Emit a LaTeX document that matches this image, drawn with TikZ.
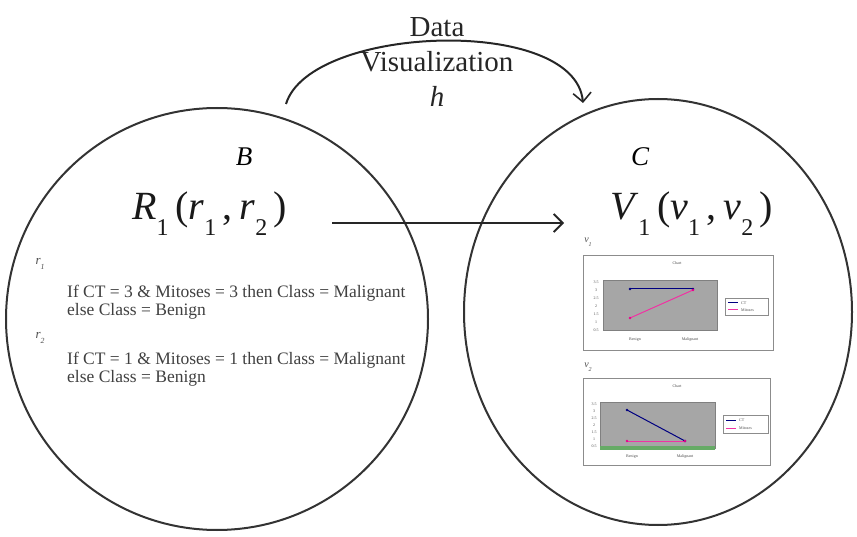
\documentclass[tikz,border=0pt]{standalone}
\usepackage{fontspec}
\setmainfont{Liberation Serif}
\usetikzlibrary{arrows.meta,shapes.geometric}
\newcommand{\sbx}[1]{\raisebox{-0.38em}{\scalebox{0.6}{#1}}}
\tikzset{
  setring/.style={draw=black!80, line width=2pt, ellipse, inner sep=0pt},
  flow/.style={draw=black!85, line width=2.2pt, -{Straight Barb[length=9pt,width=18pt,line width=1.8pt]}},
  rule/.style={anchor=west, inner sep=0pt, font=\fontsize{17.5}{18}\selectfont, text=black!75},
  rlab/.style={inner sep=0pt, font=\fontsize{13}{14}\selectfont\itshape, text=black!70},
  big/.style={inner sep=0pt, anchor=base west, font=\fontsize{40}{42}\selectfont, text=black!90},
  frame/.style={draw=black!45, fill=white, line width=0.6pt},
  plot/.style={fill=black!35, draw=black!50, line width=0.4pt},
  tiny/.style={inner sep=0pt, font=\fontsize{4}{4}\selectfont, text=black!70},
  ctline/.style={draw=blue!50!black, line width=1pt},
  mitline/.style={draw=magenta!80!white, line width=1pt}
}
\begin{document}
\begin{tikzpicture}[x=1pt,y=-1pt]
\useasboundingbox (0,0) rectangle (857,537);
% sets
\node[setring, minimum width=422pt, minimum height=422pt] (Bset) at (217,319) {};
\node[setring, minimum width=388pt, minimum height=426pt] (Cset) at (658,312) {};
\coordinate (bTop) at (286,104);
\coordinate (cTop) at (583,103);
% labels
\node[inner sep=0pt, font=\fontsize{27}{28}\selectfont\itshape] (B) at (244,157) {B};
\node[inner sep=0pt, font=\fontsize{27}{28}\selectfont\itshape] (C) at (640,157) {C};
\node[big] (R) at (132,220)
  {\textit{R}\sbx{1}\,(\textit{r}\sbx{1}\,,\,\textit{r}\sbx{2}\,)};
\node[big] (V) at (610,220)
  {\textit{V}\sbx{1}\,(\textit{v}\sbx{1}\,,\,\textit{v}\sbx{2}\,)};
% arrows
\coordinate (aStart) at (332,223);
\coordinate (aEnd) at (564,223);
\draw[flow] (aStart) -- (aEnd);
\draw[draw=black!85, line width=2pt, -{Straight Barb[length=9pt,width=18pt,line width=1.6pt]}]
  (bTop) .. controls (310,25) and (575,15) .. (cTop);
\node[align=center, inner sep=0pt, font=\fontsize{29}{35}\selectfont, text=black!85] (h) at (437,62)
  {Data\\Visualization\\\textit{h}};
% rules
\node[rlab] (r1) at (40,264) {r\sbx{1}};
\node[rule] (l1) at (67,293) {If CT = 3 \& Mitoses = 3 then Class = Malignant};
\node[rule] (l2) at (67,311) {else Class = Benign};
\node[rlab] (r2) at (40,338) {r\sbx{2}};
\node[rule] (l3) at (67,360) {If CT = 1 \& Mitoses = 1 then Class = Malignant};
\node[rule] (l4) at (67,378) {else Class = Benign};
% chart 1
\node[rlab, font=\fontsize{10}{10}\selectfont\itshape] (v1) at (588,242) {v\sbx{1}};
\draw[frame] (583,255) rectangle (773,350);
\node[tiny] (t1) at (677,263) {Chart};
\draw[plot] (603,280) rectangle (717,330);
\draw[ctline] (630,289) -- (693,289);
\draw[mitline] (630,318) -- (693,290);
\foreach \p in {(630,289),(693,289)} \fill[blue!50!black] \p circle (1.3);
\foreach \p in {(630,318),(693,290)} \fill[magenta] \p circle (1.3);
\foreach \yy/\lab in {282/3.5,290/3,298/2.5,306/2,314/1.5,322/1,330/0.5} \node[tiny] at (596,\yy) {\lab};
\node[tiny] (x1a) at (635,340) {Benign};
\node[tiny] (x1b) at (690,340) {Malignant};
\draw[frame] (725,298) rectangle (768,315);
\draw[ctline] (728,303) -- (738,303);
\draw[mitline] (728,310) -- (738,310);
\node[tiny, anchor=west] (g1a) at (741,303) {CT};
\node[tiny, anchor=west] (g1b) at (741,310) {Mitoses};
% chart 2
\node[rlab, font=\fontsize{10}{10}\selectfont\itshape] (v2) at (588,367) {v\sbx{2}};
\draw[frame] (583,378) rectangle (770,465);
\node[tiny] (t2) at (677,386) {Chart};
\draw[plot] (600,402) rectangle (715,448);
\fill[green!45!black!60] (600,446) rectangle (715,450);
\draw[ctline] (627,410) -- (685,441);
\draw[mitline] (627,441) -- (685,441);
\foreach \p in {(627,410),(685,441)} \fill[blue!50!black] \p circle (1.3);
\foreach \p in {(627,441),(685,441)} \fill[magenta] \p circle (1.3);
\foreach \yy/\lab in {404/3.5,411/3,418/2.5,425/2,432/1.5,439/1,446/0.5} \node[tiny] at (594,\yy) {\lab};
\node[tiny] (x2a) at (632,457) {Benign};
\node[tiny] (x2b) at (685,457) {Malignant};
\draw[frame] (723,415) rectangle (768,433);
\draw[ctline] (726,420) -- (736,420);
\draw[mitline] (726,428) -- (736,428);
\node[tiny, anchor=west] (g2a) at (739,420) {CT};
\node[tiny, anchor=west] (g2b) at (739,428) {Mitoses};
\end{tikzpicture}
\end{document}
